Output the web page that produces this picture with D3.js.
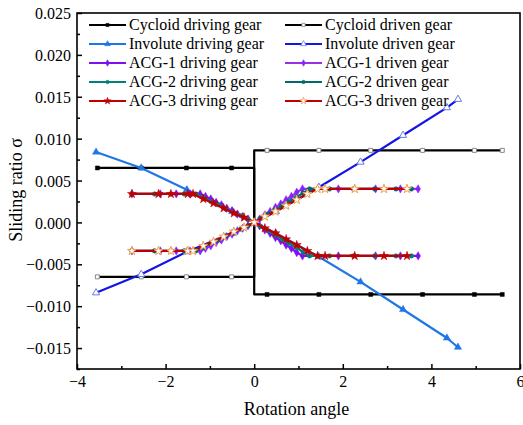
<!DOCTYPE html>
<html>
<head>
<meta charset="utf-8">
<script src="https://cdn.jsdelivr.net/npm/d3@7"></script>
<style>
  html, body { margin: 0; padding: 0; background: #fff; }
  svg { display: block; }
</style>
</head>
<body>
<svg id="chart" width="523" height="425"></svg>
<script>
// ---------------- data ----------------
const xTicks = [-4, -2, 0, 2, 4, 6];
const yTicks = [-0.015, -0.010, -0.005, 0.000, 0.005, 0.010, 0.015, 0.020, 0.025];
const xLabel = "Rotation angle";
const yLabel = "Sliding ratio σ";

const seriesNames = [
  "Cycloid driving gear", "Cycloid driven gear",
  "Involute driving gear", "Involute driven gear",
  "ACG-1 driving gear", "ACG-1 driven gear",
  "ACG-2 driving gear", "ACG-2 driven gear",
  "ACG-3 driving gear", "ACG-3 driven gear"
];

const cycloidX = [-3.54, -2.55, -1.53, -0.51, 0, 0, 0.29, 1.46, 2.63, 3.80, 4.97, 5.60];
const cycloidDrivingY = [0.0065, 0.0065, 0.0065, 0.0065, 0.0065, -0.0086, -0.0086, -0.0086, -0.0086, -0.0086, -0.0086, -0.0086];
const cycloidDrivenY  = [-0.0065, -0.0065, -0.0065, -0.0065, -0.0065, 0.0086, 0.0086, 0.0086, 0.0086, 0.0086, 0.0086, 0.0086];

const involuteX = [-3.57, -2.55, -1.52, -0.50, 0, 0.49, 1.46, 2.40, 3.36, 4.35, 4.60];
const involuteDrivingY = [0.0084, 0.0065, 0.0039, 0.0013, 0, -0.0013, -0.0041, -0.0071, -0.0104, -0.0138, -0.0149];
const involuteDrivenY  = [-0.0084, -0.0062, -0.0035, -0.0013, 0, 0.0013, 0.0042, 0.0072, 0.0104, 0.0137, 0.0147];

const acg1X = [-2.76, -2.12, -1.76, -1.45, -1.22, -1.10, -0.98, -0.86, -0.74, -0.62, -0.50, -0.38, -0.26, -0.14, 0, 0.12, 0.24, 0.36, 0.48, 0.60, 0.72, 0.84, 0.96, 1.09, 1.90, 2.74, 3.30, 3.70];
const acg1DrivingY = [0.0034, 0.0034, 0.0034, 0.0034, 0.0034, 0.0031, 0.0028, 0.0024, 0.0021, 0.0017, 0.0014, 0.0010, 0.0007, 0.0004, 0, -0.0004, -0.0009, -0.0013, -0.0018, -0.0022, -0.0027, -0.0031, -0.0036, -0.0040, -0.0040, -0.0040, -0.0040, -0.0040];
const acg1DrivenY  = [-0.0034, -0.0034, -0.0034, -0.0034, -0.0034, -0.0031, -0.0028, -0.0024, -0.0021, -0.0017, -0.0014, -0.0010, -0.0007, -0.0004, 0, 0.0004, 0.0009, 0.0013, 0.0018, 0.0022, 0.0027, 0.0031, 0.0036, 0.0040, 0.0040, 0.0040, 0.0040, 0.0040];

const acg2X = [-2.76, -2.25, -1.88, -1.58, -1.32, -1.15, -0.98, -0.81, -0.64, -0.47, -0.30, -0.14, 0, 0.15, 0.31, 0.47, 0.63, 0.79, 0.95, 1.10, 1.25, 1.70, 2.24, 2.72, 3.20, 3.55];
const acg2DrivingY = [0.0034, 0.0034, 0.0034, 0.0034, 0.0034, 0.0030, 0.0025, 0.0021, 0.0016, 0.0012, 0.0008, 0.0004, 0, -0.0005, -0.0010, -0.0015, -0.0020, -0.0025, -0.0030, -0.0035, -0.0040, -0.0040, -0.0040, -0.0040, -0.0040, -0.0040];
const acg2DrivenY  = [-0.0034, -0.0034, -0.0034, -0.0034, -0.0034, -0.0030, -0.0025, -0.0021, -0.0016, -0.0012, -0.0008, -0.0004, 0, 0.0005, 0.0010, 0.0015, 0.0020, 0.0025, 0.0030, 0.0035, 0.0040, 0.0040, 0.0040, 0.0040, 0.0040, 0.0040];

const acg3X = [-2.76, -2.16, -1.88, -1.50, -1.38, -1.15, -0.92, -0.69, -0.46, -0.23, 0, 0.24, 0.48, 0.72, 0.96, 1.20, 1.43, 1.60, 2.27, 2.93, 3.45];
const acg3DrivingY = [0.0034, 0.0034, 0.0034, 0.0034, 0.0034, 0.0028, 0.0023, 0.0017, 0.0011, 0.0006, 0, -0.0007, -0.0013, -0.0020, -0.0027, -0.0034, -0.0040, -0.0040, -0.0040, -0.0040, -0.0040];
const acg3DrivenY  = [-0.0034, -0.0034, -0.0034, -0.0034, -0.0034, -0.0028, -0.0023, -0.0017, -0.0011, -0.0006, 0, 0.0007, 0.0013, 0.0020, 0.0027, 0.0034, 0.0040, 0.0040, 0.0040, 0.0040, 0.0040];

// ---------------- styles ----------------
const FONT = "'Liberation Serif', 'Times New Roman', serif";
const fsTick = 16, fsLegend = 16, fsTitle = 18;
const series = [
  { name: seriesNames[0], x: cycloidX, y: cycloidDrivingY, color: "#000000", marker: "square", fill: "#000000", size: 4, skipZero: true },
  { name: seriesNames[1], x: cycloidX, y: cycloidDrivenY, color: "#000000", marker: "square", fill: "#ffffff", stroke: "#888888", size: 4, skipZero: true },
  { name: seriesNames[2], x: involuteX, y: involuteDrivingY, color: "#1f77e6", marker: "triangle", fill: "#1f77e6", size: 5 },
  { name: seriesNames[3], x: involuteX, y: involuteDrivenY, color: "#1414e6", marker: "triangle", fill: "#ffffff", stroke: "#6a7ae8", size: 5 },
  { name: seriesNames[4], x: acg1X, y: acg1DrivingY, color: "#7f10f0", marker: "diamond", fill: "#7f10f0", size: 5 },
  { name: seriesNames[5], x: acg1X, y: acg1DrivenY, color: "#9a30e6", marker: "diamond", fill: "#8a20ff", size: 5 },
  { name: seriesNames[6], x: acg2X, y: acg2DrivingY, color: "#00807a", marker: "circle", fill: "#00807a", size: 4.5 },
  { name: seriesNames[7], x: acg2X, y: acg2DrivenY, color: "#006a6a", marker: "circle", fill: "#006a6a", size: 4.5 },
  { name: seriesNames[8], x: acg3X, y: acg3DrivingY, color: "#c00000", marker: "star", fill: "#c00000", size: 5 },
  { name: seriesNames[9], x: acg3X, y: acg3DrivenY, color: "#c00000", marker: "star", fill: "#ffffff", stroke: "#f0a050", size: 5 }
];

const svg = d3.select("#chart");
const L = 77, R = 520, T = 13, B = 369;
const x = d3.scaleLinear().domain([-4, 6]).range([L, R]);
const y = d3.scaleLinear().domain([-0.0175, 0.025]).range([B, T]);

function markerPath(type, s) {
  switch (type) {
    case "square": return d3.symbol(d3.symbolSquare, s * s)();
    case "triangle": return d3.symbol(d3.symbolTriangle, s * s * 0.9)();
    case "diamond": return d3.symbol(d3.symbolDiamond, s * s * 0.8)();
    case "circle": return d3.symbol(d3.symbolCircle, s * s * 0.8)();
    case "star": return d3.symbol(d3.symbolStar, s * s)();
  }
}

const plot = svg.append("g");
const line = d3.line().x(d => x(d[0])).y(d => y(d[1]));
series.forEach(s => {
  const pts = s.x.map((v, i) => [v, s.y[i]]);
  plot.append("path").attr("d", line(pts)).attr("fill", "none")
    .attr("stroke", s.color).attr("stroke-width", 2.2).attr("stroke-linejoin", "round");
  plot.selectAll(null).data(pts.filter(p => !(s.skipZero && p[0] === 0)))
    .enter().append("path")
    .attr("d", markerPath(s.marker, s.size))
    .attr("transform", d => `translate(${x(d[0])},${y(d[1])})`)
    .attr("fill", s.fill).attr("stroke", s.stroke || s.fill)
    .attr("stroke-width", s.stroke ? 1 : 0.5);
});

const axisG = svg.append("g");
const xAxis = d3.axisBottom(x).tickValues(xTicks).tickSizeInner(-5).tickSizeOuter(0).tickFormat(d3.format("d"));
const xMinor = d3.axisBottom(x).tickValues(d3.range(-3, 6, 2)).tickSizeInner(-3).tickSizeOuter(0).tickFormat("");
const yAxis = d3.axisLeft(y).tickValues(yTicks).tickSizeInner(-5).tickSizeOuter(0).tickFormat(d3.format(".3f"));
const yMinor = d3.axisLeft(y).tickValues(d3.range(-0.0175, 0.025, 0.005)).tickSizeInner(-3).tickSizeOuter(0).tickFormat("");

function styleAxis(g) {
  g.attr("font-family", FONT).attr("font-size", fsTick);
  g.select(".domain").remove();
  g.selectAll(".tick line").attr("stroke", "#000").attr("stroke-width", 1.5);
  g.selectAll("text").attr("fill", "#000");
}
axisG.append("g").attr("transform", `translate(0,${B})`).call(xAxis).call(styleAxis)
  .selectAll("text").attr("dy", "0").attr("y", 18);
axisG.append("g").attr("transform", `translate(0,${B})`).call(xMinor).call(styleAxis);
axisG.append("g").attr("transform", `translate(${L},0)`).call(yAxis).call(styleAxis)
  .selectAll("text").attr("x", -6).attr("dy", "0.35em");
axisG.append("g").attr("transform", `translate(${L},0)`).call(yMinor).call(styleAxis);

svg.append("rect").attr("x", L).attr("y", T).attr("width", R - L).attr("height", B - T)
  .attr("fill", "none").attr("stroke", "#000").attr("stroke-width", 1.6);

svg.append("text").attr("x", (L + R) / 2 - 2).attr("y", 415).attr("text-anchor", "middle")
  .attr("font-family", FONT).attr("font-size", fsTitle).attr("fill", "#000").text(xLabel);
svg.append("text").attr("transform", "translate(22,190) rotate(-90)").attr("text-anchor", "middle")
  .attr("font-family", FONT).attr("font-size", fsTitle).attr("fill", "#000").text(yLabel);

const legend = svg.append("g");
const colX = [89, 285];
const rowY = [25, 44, 63, 82, 101];
series.forEach((s, i) => {
  const cx = colX[i % 2], cy = rowY[Math.floor(i / 2)];
  const g = legend.append("g").attr("transform", `translate(${cx},${cy})`);
  g.append("line").attr("x1", 0).attr("x2", 37).attr("y1", 0).attr("y2", 0)
    .attr("stroke", s.color).attr("stroke-width", 2.2);
  g.append("path").attr("d", markerPath(s.marker, s.size * 0.8)).attr("transform", "translate(18.5,0)")
    .attr("fill", s.fill).attr("stroke", s.stroke || s.fill).attr("stroke-width", s.stroke ? 0.8 : 0.5);
  g.append("text").attr("x", 40).attr("y", 5)
    .attr("font-family", FONT).attr("font-size", fsLegend).attr("fill", "#000").text(s.name);
});
</script>
</body>
</html>
